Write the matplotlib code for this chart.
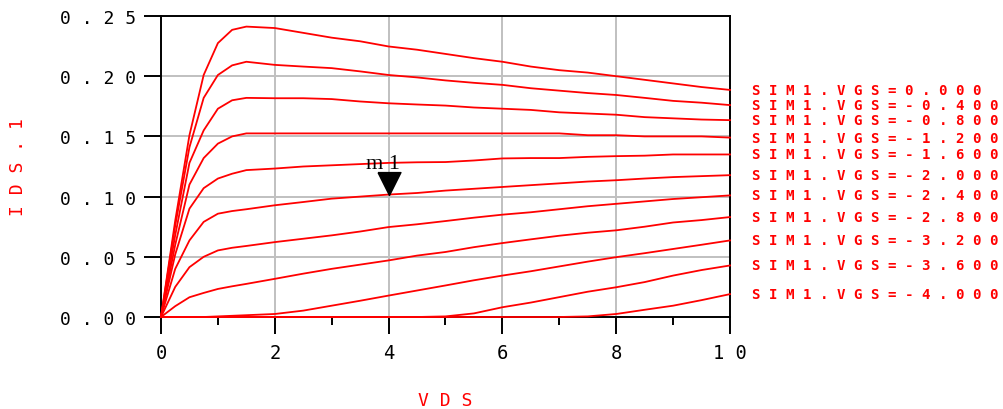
import matplotlib
matplotlib.use("Agg")
import matplotlib.pyplot as plt
from matplotlib.ticker import FixedLocator

# ---- data ----
vds = [0, 0.25, 0.5, 0.75, 1.0, 1.25, 1.5, 2, 2.5, 3, 3.5, 4, 4.5, 5, 5.5,
       6, 6.5, 7, 7.5, 8, 8.5, 9, 9.5, 10]

vgs_labels = ["SIM1.VGS=0.000", "SIM1.VGS=-0.400", "SIM1.VGS=-0.800",
              "SIM1.VGS=-1.200", "SIM1.VGS=-1.600", "SIM1.VGS=-2.000",
              "SIM1.VGS=-2.400", "SIM1.VGS=-2.800", "SIM1.VGS=-3.200",
              "SIM1.VGS=-3.600", "SIM1.VGS=-4.000"]

ids_vgs_0_0 = [0, 0.080, 0.151, 0.201, 0.2275, 0.2385, 0.2412, 0.240, 0.236, 0.232,
               0.229, 0.2247, 0.222, 0.2185, 0.215, 0.212, 0.208, 0.205, 0.203,
               0.200, 0.197, 0.194, 0.191, 0.1886]
ids_vgs_m0_4 = [0, 0.076, 0.141, 0.182, 0.201, 0.209, 0.212, 0.2094, 0.208, 0.2067,
                0.204, 0.201, 0.199, 0.1965, 0.1945, 0.1928, 0.190, 0.188, 0.186,
                0.1844, 0.182, 0.1795, 0.178, 0.176]
ids_vgs_m0_8 = [0, 0.068, 0.128, 0.155, 0.173, 0.180, 0.182, 0.1817, 0.1817, 0.181,
                0.179, 0.1775, 0.1765, 0.1756, 0.174, 0.173, 0.172, 0.170, 0.169,
                0.168, 0.166, 0.165, 0.164, 0.1635]
ids_vgs_m1_2 = [0, 0.060, 0.110, 0.132, 0.144, 0.150, 0.1525, 0.1525, 0.1525, 0.1525,
                0.1525, 0.1525, 0.1525, 0.1525, 0.1525, 0.1525, 0.1525, 0.1525, 0.151,
                0.151, 0.150, 0.150, 0.150, 0.149]
ids_vgs_m1_6 = [0, 0.052, 0.090, 0.107, 0.115, 0.119, 0.122, 0.1233, 0.125, 0.126,
                0.127, 0.128, 0.1285, 0.1287, 0.130, 0.1317, 0.132, 0.132, 0.133,
                0.1336, 0.134, 0.135, 0.135, 0.135]
ids_vgs_m2_0 = [0, 0.040, 0.0636, 0.079, 0.0858, 0.088, 0.0895, 0.0928, 0.0955, 0.0983,
                0.100, 0.1017, 0.103, 0.105, 0.1065, 0.108, 0.1095, 0.111, 0.1125,
                0.1136, 0.115, 0.1162, 0.117, 0.1178]
ids_vgs_m2_4 = [0, 0.025, 0.0414, 0.050, 0.0553, 0.0575, 0.059, 0.0622, 0.065, 0.0678,
                0.071, 0.0747, 0.077, 0.0797, 0.0825, 0.085, 0.087, 0.0895, 0.092,
                0.094, 0.096, 0.098, 0.0995, 0.101]
ids_vgs_m2_8 = [0, 0.009, 0.0164, 0.020, 0.0233, 0.0255, 0.0275, 0.0317, 0.036, 0.040,
                0.0435, 0.047, 0.051, 0.054, 0.058, 0.0614, 0.0645, 0.0675, 0.070,
                0.072, 0.075, 0.0785, 0.0805, 0.083]
ids_vgs_m3_2 = [0, 0, 0, 0, 0.0005, 0.001, 0.0015, 0.0025, 0.0053, 0.0094,
                0.0135, 0.0178, 0.022, 0.0262, 0.0305, 0.0344, 0.038, 0.042, 0.046,
                0.0497, 0.053, 0.0565, 0.060, 0.0636]
ids_vgs_m3_6 = [0, 0, 0, 0, 0, 0, 0, 0, 0, 0,
                0, 0, 0, 0.0005, 0.003, 0.0081, 0.012, 0.0165, 0.021,
                0.0247, 0.029, 0.0344, 0.039, 0.0428]
ids_vgs_m4_0 = [0, 0, 0, 0, 0, 0, 0, 0, 0, 0,
                0, 0, 0, 0, 0, 0, 0, 0, 0.0005,
                0.0025, 0.006, 0.0094, 0.014, 0.019]

curves = [ids_vgs_0_0, ids_vgs_m0_4, ids_vgs_m0_8, ids_vgs_m1_2, ids_vgs_m1_6,
          ids_vgs_m2_0, ids_vgs_m2_4, ids_vgs_m2_8, ids_vgs_m3_2, ids_vgs_m3_6,
          ids_vgs_m4_0]

marker_name = "m1"
marker_vds = 4
marker_curve = 5  # VGS=-2.000

yticks = [0.00, 0.05, 0.10, 0.15, 0.20, 0.25]
xticks = [0, 2, 4, 6, 8, 10]
xminor = [1, 3, 5, 7, 9]

def spaced(s):
    return " ".join(list(s))

# ---- figure ----
fig = plt.figure(figsize=(10.04, 4.10), dpi=100)
ax = fig.add_axes([161/1004, 1 - 318/410, (730 - 161)/1004, (318 - 17)/410])

red = "#ff0000"
for ys, lab in zip(curves, vgs_labels):
    ax.plot(vds, ys, color=red, lw=1.3, zorder=3, clip_on=False)
    ax.annotate(spaced(lab), xy=(vds[-1], ys[-1]), xycoords="data",
                xytext=(22, 0), textcoords="offset pixels",
                ha="left", va="center", color=red,
                family="DejaVu Sans Mono", weight="bold", fontsize=10.2,
                annotation_clip=False)

ax.set_xlim(0, 10)
ax.set_ylim(0, 0.25)

# grid
ax.xaxis.set_major_locator(FixedLocator(xticks))
ax.xaxis.set_minor_locator(FixedLocator(xminor))
ax.yaxis.set_major_locator(FixedLocator(yticks))
ax.grid(True, which="major", color="#c0c0c0", lw=1.4, zorder=1)
ax.set_axisbelow(True)

ax.set_xticklabels([spaced(str(v)) for v in xticks],
                   family="DejaVu Sans Mono", fontsize=13.5)
ax.set_yticklabels([spaced(f"{v:.2f}") for v in yticks],
                   family="DejaVu Sans Mono", fontsize=13)

ax.tick_params(axis="x", which="major", length=12.5, width=1.4, pad=6, direction="out")
ax.tick_params(axis="x", which="minor", length=6, width=1.4, direction="out")
ax.tick_params(axis="y", which="major", length=12.5, width=1.4, pad=5.5, direction="out")

for sp in ax.spines.values():
    sp.set_linewidth(1.4)
    sp.set_color("black")

ax.set_xlabel(spaced("VDS"), color=red, family="DejaVu Sans Mono", fontsize=13,
              labelpad=21)
ax.set_ylabel(spaced("IDS.1"), color=red, family="DejaVu Sans Mono", fontsize=13,
              labelpad=24)

# marker m1
mx = marker_vds
my = curves[marker_curve][vds.index(marker_vds)]
tri = [(-0.5, 1.0), (0.5, 1.0), (0.0, 0.0), (-0.5, 1.0)]
ax.plot([mx], [my], marker=tri, markersize=33, color="black", zorder=5,
        linestyle="none", clip_on=False)
ax.annotate(spaced(marker_name), xy=(mx, my), xytext=(-23, 27),
            textcoords="offset pixels", ha="left", va="baseline",
            family="Liberation Serif", fontsize=16, color="black")

fig.savefig("out.png", dpi=100)
